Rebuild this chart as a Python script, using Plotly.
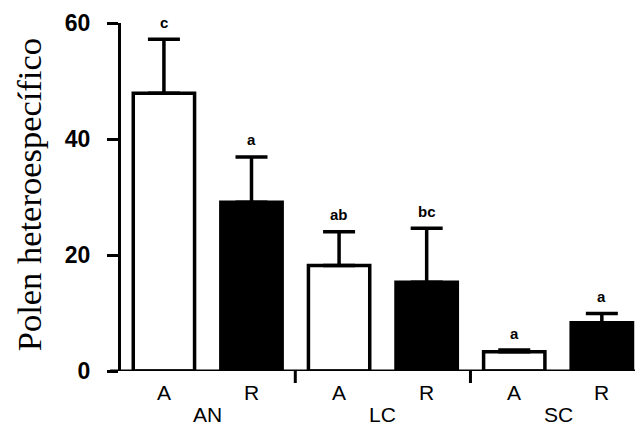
import plotly.graph_objects as go

groups = ["AN", "LC", "SC"]
treatments = ["A", "R", "A", "R", "A", "R"]
means = [47.9, 29.1, 18.2, 15.3, 3.3, 8.3]
errors = [9.3, 7.8, 5.8, 9.3, 0.3, 1.6]
letters = ["c", "a", "ab", "bc", "a", "a"]
y_ticks = [0, 20, 40, 60]

# page body has an 8px margin; figure is sized so it ends at the window edge
OFF = 8
W, H = 643 - OFF, 427 - OFF
L, R, T = 121 - OFF, 0, 22.5 - OFF
B = H - (371 - OFF)
pw, ph = W - L - R, H - T - B

xpos = list(range(len(means)))
fills = ["white" if t == "A" else "black" for t in treatments]

fig = go.Figure()
fig.add_trace(go.Bar(
    x=xpos, y=means, width=0.7,
    marker=dict(color=fills, line=dict(color="black", width=3.5)),
    error_y=dict(type="data", array=errors, arrayminus=[0] * len(errors),
                 symmetric=False, color="black", thickness=3.5, width=16),
    showlegend=False,
))

ann = []
for i, (m, e, s) in enumerate(zip(means, errors, letters)):
    ann.append(dict(x=i, y=m + e, text=s, showarrow=False, yshift=17,
                    yanchor="middle",
                    font=dict(family="Liberation Sans, Arial", size=15, color="black", weight="bold")))
for i, t in enumerate(treatments):
    ann.append(dict(x=i, y=-22 / ph, yref="paper", text=t, showarrow=False,
                    yanchor="middle",
                    font=dict(family="Liberation Sans, Arial", size=21, color="black")))
for g, name in enumerate(groups):
    ann.append(dict(x=2 * g + 0.5, y=-B / ph, yref="paper", text=name, showarrow=False,
                    yanchor="bottom", borderpad=0,
                    font=dict(family="Liberation Sans, Arial", size=21, color="black")))
ann.append(dict(x=(29 - OFF - L) / pw, xref="paper", y=(371 - 195) / ph, yref="paper",
                text="Polen heteroespecífico", textangle=-90, showarrow=False,
                xanchor="center", yanchor="middle",
                font=dict(family="Liberation Serif, Times New Roman", size=34.5, color="black")))

shapes = [dict(type="line", xref="paper", yref="y", x0=-11 / pw, x1=1, y0=0, y1=0,
               line=dict(color="black", width=3))]
for sx in [1.5, 3.5]:
    shapes.append(dict(type="line", xref="x", yref="paper", x0=sx, x1=sx,
                       y0=0, y1=-12 / ph, line=dict(color="black", width=3)))

fig.update_layout(
    width=W, height=H,
    margin=dict(l=L, r=R, t=T, b=B),
    paper_bgcolor="white", plot_bgcolor="white",
    annotations=ann, shapes=shapes,
    xaxis=dict(range=[-0.49, 5.47], showgrid=False, zeroline=False,
               showline=False, showticklabels=False, ticks=""),
    yaxis=dict(range=[0, 60], tickvals=y_ticks, showgrid=False, zeroline=False,
               showline=True, linecolor="black", linewidth=3,
               ticks="outside", ticklen=11, tickwidth=3, tickcolor="black",
               ticklabelstandoff=12,
               tickfont=dict(family="Liberation Sans, Arial", size=23, color="black", weight="bold")),
)

fig.write_html("out.html")
